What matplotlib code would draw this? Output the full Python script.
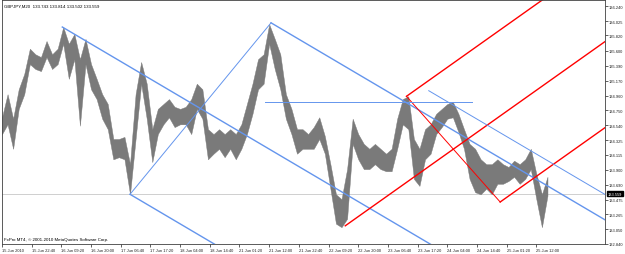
import numpy as np
import matplotlib
matplotlib.use("Agg")
import matplotlib.pyplot as plt
from matplotlib.transforms import blended_transform_factory

# GBPJPY M20, sampled every 6 bars: high / low of each sample
bar_step = 6
highs = [134.65, 134.98, 134.63, 135.05, 135.27, 135.63, 135.55, 135.51, 135.74, 135.55,
         135.63, 135.94, 135.70, 135.84, 135.48, 135.77, 135.41, 135.20, 134.98, 134.84,
         134.34, 134.34, 134.37, 133.98, 134.98, 135.44, 135.13, 134.48, 134.77, 134.84,
         134.91, 134.80, 134.77, 134.80, 134.91, 135.13, 135.05, 134.48, 134.41, 134.48,
         134.41, 134.48, 134.41, 134.55, 134.84, 135.13, 135.48, 135.55, 135.98, 135.77,
         135.55, 134.98, 134.77, 134.48, 134.48, 134.41, 134.51, 134.65, 134.38, 133.98,
         133.55, 133.48, 133.91, 134.63, 134.41, 134.27, 134.20, 134.27, 134.20, 134.13,
         134.20, 134.63, 134.91, 134.95, 134.34, 134.20, 134.48, 134.55, 134.70, 134.77,
         134.84, 134.87, 134.70, 134.48, 134.27, 134.20, 134.05, 133.98, 133.98, 134.05,
         133.98, 133.94, 134.03, 133.98, 134.05, 134.20, 133.84, 133.55, 133.80]
lows = [134.41, 134.55, 134.20, 134.77, 134.98, 135.41, 135.34, 135.31, 135.51, 135.34,
        135.41, 135.70, 135.20, 135.48, 134.53, 135.41, 135.05, 134.91, 134.63, 134.48,
        134.05, 134.08, 134.05, 133.55, 134.34, 135.13, 134.63, 134.01, 134.41, 134.55,
        134.65, 134.51, 134.55, 134.55, 134.41, 134.77, 134.63, 134.05, 134.13, 134.20,
        134.08, 134.20, 134.05, 134.20, 134.41, 134.70, 135.05, 135.13, 135.70, 135.34,
        135.05, 134.63, 134.41, 134.13, 134.20, 134.20, 134.20, 134.34, 134.13, 133.63,
        133.13, 133.08, 133.20, 134.27, 134.05, 133.91, 133.91, 133.98, 133.91, 133.88,
        133.88, 134.20, 134.55, 134.48, 133.77, 133.67, 134.05, 134.13, 134.41, 134.51,
        134.63, 134.65, 134.44, 134.20, 133.77, 133.58, 133.55, 133.63, 133.55, 133.70,
        133.70, 133.74, 133.80, 133.70, 133.77, 133.91, 133.48, 133.08, 133.53]

time_labels = ["15 Jun 2010", "15 Jun 22:40", "16 Jun 09:20", "16 Jun 20:00", "17 Jun 06:40",
               "17 Jun 17:20", "18 Jun 04:00", "18 Jun 14:40", "21 Jun 01:20", "21 Jun 12:00",
               "21 Jun 22:40", "22 Jun 09:20", "22 Jun 20:00", "23 Jun 06:40", "23 Jun 17:20",
               "24 Jun 04:00", "24 Jun 14:40", "25 Jun 01:20", "25 Jun 12:00"]
bars_per_label = 32
price_labels = ["132.840", "133.050", "133.265", "133.475", "133.690", "133.900", "134.115",
                "134.325", "134.540", "134.750", "134.960", "135.170", "135.390", "135.600",
                "135.820", "136.025", "136.240"]

# drawn objects: (bar, price) anchors
blue_fork = [(65, 135.94), (138, 133.55), (290, 136.00)]
red_fork = [(370, 133.10), (436, 134.95), (537, 133.44)]
blue_level = 134.87
blue_level_span = (284, 507)
blue_trend = [(460, 135.03), (560, 134.25)]
bid = 133.559
header = "GBPJPY,M20  133.743 133.814 133.502 133.559"
copyright_text = "FxPro MT4, \u00a9 2001-2010 MetaQuotes Software Corp."

FS = 2.9
X_END = 650


def draw_pitchfork(ax, pts, color):
    (x1, y1), (x2, y2), (x3, y3) = pts
    mx, my = (x2 + x3) / 2, (y2 + y3) / 2
    slope = (my - y1) / (mx - x1)
    for x0, y0 in pts:
        ax.plot([x0, X_END], [y0, y0 + slope * (X_END - x0)], color=color, lw=1.0)
    ax.plot([x2, x3], [y2, y3], color=color, lw=0.7)


def main():
    plt.rcParams["font.family"] = ["Liberation Sans", "DejaVu Sans"]
    fig = plt.figure(figsize=(6.25, 2.55), dpi=100)
    ax = fig.add_axes([2 / 625, 10 / 255, 603 / 625, 244.5 / 255])
    ax.set_xlim(0, X_END)
    ax.set_ylim(132.84, 136.333)

    ax.axhline(bid, color="#c8c8c8", lw=0.6, zorder=1)

    bars = np.arange(len(highs)) * bar_step
    ax.fill_between(bars, lows, highs, color="#7a7a7a", lw=0.3, zorder=2)

    blue = "#6495ed"
    draw_pitchfork(ax, blue_fork, blue)
    draw_pitchfork(ax, red_fork, "#ff0000")
    ax.plot(blue_level_span, [blue_level, blue_level], color=blue, lw=0.7)
    (tx0, ty0), (tx1, ty1) = blue_trend
    k = (ty1 - ty0) / (tx1 - tx0)
    ax.plot([tx0, X_END], [ty0, ty0 + k * (X_END - tx0)], color=blue, lw=0.7)

    ax.set_xticks([i * bars_per_label for i in range(len(time_labels))])
    ax.set_xticklabels(time_labels)
    for lab in ax.get_xticklabels():
        lab.set_ha("left")
    ax.set_yticks([float(p) for p in price_labels])
    ax.set_yticklabels(price_labels)
    ax.yaxis.tick_right()
    ax.tick_params(axis="both", labelsize=FS, length=2, width=0.5, pad=0.8, colors="#202020")
    for sp in ax.spines.values():
        sp.set_linewidth(0.6)
        sp.set_color("#404040")

    trans = blended_transform_factory(ax.transAxes, ax.transData)
    ax.text(1.0045, bid, "133.559", transform=trans, fontsize=FS, color="white",
            va="center", ha="left", clip_on=False,
            bbox=dict(boxstyle="square,pad=0.2", fc="black", ec="black"))

    ax.text(0.003, 0.985, header, transform=ax.transAxes, fontsize=FS + 0.3, va="top", ha="left")
    ax.text(0.003, 0.012, copyright_text, transform=ax.transAxes, fontsize=FS + 0.3,
            va="bottom", ha="left")

    fig.savefig("out.png", dpi=100, facecolor="white")
    plt.close(fig)


if __name__ == "__main__":
    main()
